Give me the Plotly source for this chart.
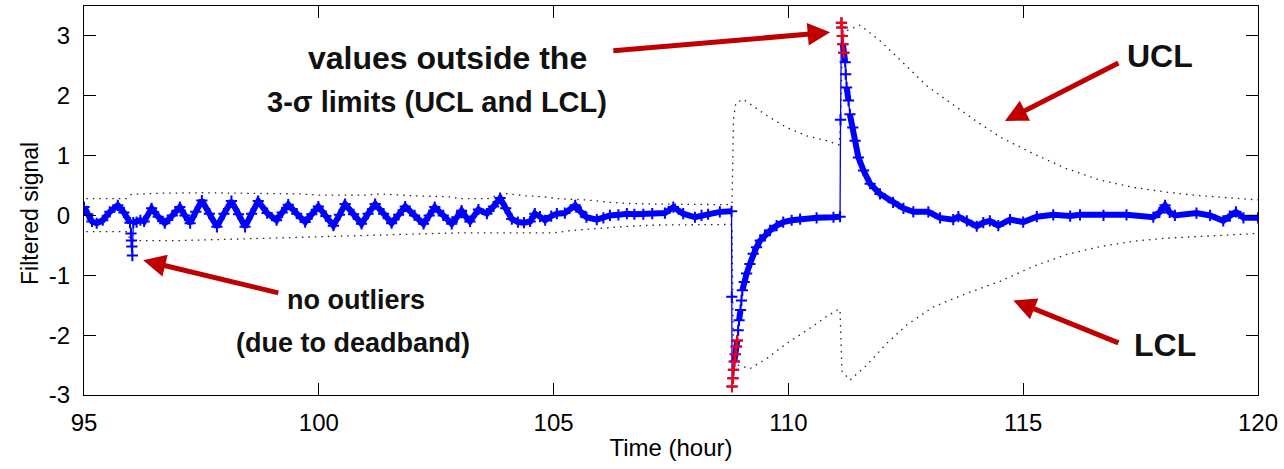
import plotly.graph_objects as go

# Filtered signal (time in hours, value)
time_h = [
    95.00, 95.08, 95.17, 95.27, 95.40, 95.55, 95.72, 95.85, 95.98,
    96.00, 96.01, 96.02, 96.03, 96.05, 96.12, 96.20, 96.28, 96.44, 96.58,
    96.72, 96.88, 97.04, 97.15, 97.26, 97.38, 97.51, 97.67, 97.83, 97.98,
    98.14, 98.29, 98.43, 98.57, 98.71, 98.90, 99.10, 99.22, 99.35, 99.53,
    99.71, 99.85, 99.99, 100.15, 100.31, 100.44, 100.56, 100.74, 100.91,
    101.05, 101.20, 101.38, 101.55, 101.70, 101.84, 102.04, 102.23, 102.35,
    102.47, 102.65, 102.83, 102.94, 103.04, 103.13, 103.22, 103.40, 103.58,
    103.72, 103.86, 103.98, 104.11, 104.24, 104.37, 104.50, 104.60, 104.71,
    104.82, 104.95, 105.07, 105.24, 105.46, 105.58, 105.70, 105.92, 106.06,
    106.20, 106.38, 106.56, 106.72, 106.91, 107.10, 107.37, 107.55, 107.76,
    108.01, 108.15, 108.29, 108.54, 108.79, 108.795,
    108.80, 108.82, 108.83, 108.85, 108.87, 108.89, 108.91,
    108.93, 108.95, 108.98, 109.00, 109.02, 109.06, 109.11, 109.18, 109.25,
    109.32, 109.40, 109.50, 109.61, 109.75, 109.89, 110.07, 110.25, 110.60,
    110.96, 111.10, 111.11,
    111.13, 111.14, 111.15, 111.16, 111.18,
    111.21, 111.22, 111.24, 111.28, 111.31, 111.37, 111.42, 111.49, 111.60,
    111.74, 111.95, 112.23, 112.45, 112.66, 112.98, 113.23, 113.51, 113.62,
    113.80, 114.01, 114.15, 114.29, 114.47, 114.72, 115.00, 115.29, 115.64,
    116.00, 116.21, 116.71, 117.20, 117.77, 117.90, 118.02, 118.12, 118.23,
    118.69, 118.98, 119.26, 119.40, 119.53, 119.69, 120.00,
]
signal = [
    0.14, 0.02, -0.10, -0.13, -0.08, 0.06, 0.17, 0.05, -0.12,
    -0.30, -0.42, -0.52, -0.67, -0.12, -0.11, -0.08, -0.10, 0.12, -0.02,
    -0.13, 0.00, 0.14, 0.00, -0.13, 0.06, 0.25, 0.03, -0.19, 0.03,
    0.24, 0.02, -0.19, 0.03, 0.24, 0.04, -0.08, 0.05, 0.18, 0.03,
    -0.11, 0.02, 0.15, -0.01, -0.17, 0.01, 0.19, 0.02, -0.14,
    0.03, 0.19, 0.03, -0.13, 0.01, 0.15, 0.00, -0.14, 0.00,
    0.14, 0.00, -0.14, -0.03, 0.08, -0.02, -0.10, 0.10, 0.03,
    0.15, 0.29, 0.12, -0.06, -0.11, -0.12, -0.10, 0.03, -0.02,
    -0.08, -0.01, 0.03, 0.04, 0.17, 0.06, -0.03, -0.07, -0.04,
    0.00, 0.01, 0.03, 0.02, 0.02, 0.03, 0.04, 0.14, 0.03,
    -0.03, 0.00, 0.02, 0.06, 0.07, -1.36,
    -2.86, -2.72, -2.58, -2.44, -2.32, -2.19, -2.09,
    -1.92, -1.75, -1.58, -1.42, -1.25, -1.11, -0.97, -0.81, -0.64,
    -0.53, -0.42, -0.33, -0.25, -0.17, -0.11, -0.08, -0.06, -0.04,
    -0.03, -0.02, 1.60,
    3.22, 3.14, 3.00, 2.86, 2.72,
    2.56, 2.36, 2.14, 1.92, 1.69, 1.47, 1.25, 0.97, 0.75,
    0.53, 0.36, 0.22, 0.12, 0.06, 0.06, -0.04, -0.07, -0.02,
    -0.09, -0.18, -0.12, -0.09, -0.17, -0.07, -0.11, -0.02, 0.01,
    -0.01, 0.01, 0.00, 0.01, -0.03, 0.05, 0.17, 0.05, 0.00,
    0.04, 0.00, -0.09, -0.01, 0.06, -0.04, -0.04,
]

# Points flagged beyond the 3-sigma limits
low_out_time = [108.80, 108.82, 108.83, 108.85, 108.87, 108.89, 108.91]
low_out_value = [-2.86, -2.72, -2.58, -2.44, -2.32, -2.19, -2.09]
high_out_time = [111.13, 111.14, 111.15, 111.16, 111.18]
high_out_value = [3.22, 3.14, 3.00, 2.86, 2.72]

# Upper control limit
ucl_time = [
    95.05, 95.90, 96.00, 96.50, 97.50, 98.50, 99.60, 100.00, 101.00, 101.30,
    102.00, 102.80, 103.00, 103.60, 103.93, 104.40, 104.80, 105.10, 105.70,
    106.20, 106.60, 107.20, 108.00, 108.78, 108.80, 108.83, 108.88, 109.04,
    109.54, 109.96, 110.39, 110.81, 111.08, 111.11, 111.15, 111.22, 111.52,
    111.95, 112.38, 112.94, 113.51, 114.01, 114.51, 115.22, 115.93, 116.64,
    117.34, 118.05, 118.76, 119.47, 120.00,
]
ucl = [
    0.28, 0.28, 0.35, 0.37, 0.38, 0.37, 0.36, 0.34, 0.34, 0.36,
    0.33, 0.31, 0.28, 0.28, 0.37, 0.33, 0.31, 0.28, 0.26,
    0.22, 0.20, 0.19, 0.18, 0.18, 0.20, 1.60, 1.88, 1.94,
    1.67, 1.47, 1.33, 1.25, 1.18, 1.50, 2.90, 3.08, 3.18,
    2.92, 2.60, 2.17, 1.85, 1.57, 1.31, 1.03, 0.78, 0.59,
    0.47, 0.39, 0.33, 0.29, 0.26,
]

# Lower control limit
lcl_time = [
    95.05, 95.90, 96.00, 97.00, 98.00, 99.00, 100.00, 101.00, 102.00, 103.00,
    104.00, 105.00, 105.40, 106.00, 106.60, 107.20, 108.00, 108.78, 108.80,
    108.83, 108.93, 109.18, 109.54, 109.96, 110.39, 110.81, 111.08, 111.10,
    111.14, 111.31, 111.67, 112.09, 112.52, 113.08, 113.80, 114.51, 115.22,
    115.93, 116.64, 117.34, 118.05, 118.76, 119.47, 120.00,
]
lcl = [
    -0.27, -0.27, -0.42, -0.42, -0.40, -0.38, -0.35, -0.33, -0.31, -0.29,
    -0.29, -0.29, -0.25, -0.21, -0.18, -0.16, -0.15, -0.15, -0.20,
    -2.42, -2.50, -2.56, -2.39, -2.14, -1.92, -1.69, -1.56, -1.60,
    -2.60, -2.75, -2.50, -2.14, -1.83, -1.53, -1.30, -1.10, -0.85,
    -0.65, -0.52, -0.43, -0.38, -0.35, -0.32, -0.30,
]

x_ticks = [95, 100, 105, 110, 115, 120]
y_ticks = [-3, -2, -1, 0, 1, 2, 3]
y_tick_text = ["-3", "-2", "-1", "0", "1", "2", "3"]

BLUE = "#0000ff"
RED = "#ff0000"
ARROW = "#c00000"
FONT = "Liberation Sans, Arial, sans-serif"

# Thick band for the noisy trace; broken where the signal jumps steeply
band_t, band_v = [], []
for i, (t, v) in enumerate(zip(time_h, signal)):
    if i > 0:
        slope = abs((v - signal[i - 1]) / (t - time_h[i - 1]))
        if slope > 7:
            band_t.append(None)
            band_v.append(None)
    band_t.append(t)
    band_v.append(v)

fig = go.Figure()

limit_line = dict(color="#222222", width=1.3, dash="1.5px,5px")
fig.add_trace(go.Scatter(x=ucl_time, y=ucl, mode="lines", line=limit_line, name="UCL"))
fig.add_trace(go.Scatter(x=lcl_time, y=lcl, mode="lines", line=limit_line, name="LCL"))

fig.add_trace(go.Scatter(
    x=time_h, y=signal, mode="lines+markers",
    line=dict(color=BLUE, width=1.3),
    marker=dict(symbol="cross-thin", size=8, line=dict(color=BLUE, width=2)),
    name="signal",
))
fig.add_trace(go.Scatter(
    x=band_t, y=band_v, mode="lines",
    line=dict(color=BLUE, width=6), connectgaps=False, name="band",
))
for ot, ov in ((low_out_time, low_out_value), (high_out_time, high_out_value)):
    fig.add_trace(go.Scatter(
        x=ot, y=ov, mode="lines+markers",
        line=dict(color=RED, width=1.3),
        marker=dict(symbol="cross-thin", size=8, line=dict(color=RED, width=2)),
        name="outliers",
    ))

# (text, x, y, font size)
labels = [
    ("values outside the", 102.73, 2.63, 32),
    ("3-σ limits (UCL and LCL)", 102.52, 1.90, 29),
    ("UCL", 117.91, 2.67, 32),
    ("LCL", 118.02, -2.17, 32),
    ("no outliers", 100.80, -1.42, 27),
    ("(due to deadband)", 100.73, -2.13, 27),
]
annotations = [
    dict(text=f"<b>{s}</b>", x=x, y=y, xref="x", yref="y", showarrow=False,
         font=dict(family=FONT, size=fs, color="#111111"),
         xanchor="center", yanchor="middle")
    for s, x, y, fs in labels
]
arrows = [
    (106.24, 2.75, 110.89, 3.06),
    (117.06, 2.56, 114.61, 1.58),
    (117.06, -2.14, 114.79, -1.42),
    (99.17, -1.30, 96.26, -0.75),
]
for tx, ty, hx, hy in arrows:
    annotations.append(dict(
        text="", x=hx, y=hy, ax=tx, ay=ty, xref="x", yref="y", axref="x", ayref="y",
        showarrow=True, arrowhead=2, arrowsize=0.9, arrowwidth=5, arrowcolor=ARROW,
    ))

# y-axis caption
annotations.append(dict(
    text="Filtered signal", x=-0.046, y=0.468, xref="paper", yref="paper",
    textangle=-90, showarrow=False, xanchor="center", yanchor="middle",
    font=dict(family=FONT, size=23, color="#000000"),
))

axis_common = dict(
    showgrid=False, zeroline=False, showline=True, linecolor="#000000", linewidth=1,
    mirror="ticks", ticks="inside", ticklen=12, tickcolor="#000000", tickwidth=1,
    tickfont=dict(family=FONT, size=24, color="#000000"),
)
fig.update_layout(
    width=1284, height=469,
    margin=dict(l=84, r=26, t=6, b=74),
    paper_bgcolor="white", plot_bgcolor="white",
    showlegend=False,
    xaxis=dict(range=[95, 120], tickvals=x_ticks, ticklabelstandoff=6,
               title=dict(text="Time (hour)", font=dict(family=FONT, size=24, color="#000000"), standoff=4),
               **axis_common),
    yaxis=dict(range=[-3, 3.5], tickvals=y_ticks, ticktext=y_tick_text, ticklabelstandoff=8,
               **axis_common),
    annotations=annotations,
)

fig.write_html("out.html")
